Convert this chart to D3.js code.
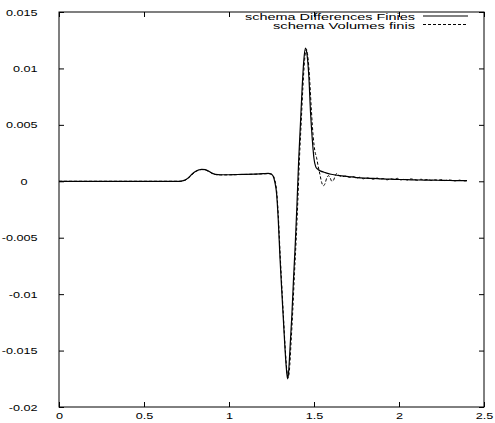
<!DOCTYPE html>
<html><head><meta charset="utf-8">
<script src="https://cdn.jsdelivr.net/npm/d3@7"></script>
<style>
html,body{margin:0;padding:0;background:#fff;}
svg{display:block;}
text{font-family:"Liberation Sans",Arial,Helvetica,sans-serif;font-size:9.5px;fill:#000;}
</style></head>
<body>
<svg id="chart" width="495" height="423"></svg>
<script>
// ---- data ----
const seriesNames = ["schema Differences Finies", "schema Volumes finis"];
const xTicks = [0, 0.5, 1, 1.5, 2, 2.5];
const yTicks = [0.015, 0.01, 0.005, 0, -0.005, -0.01, -0.015, -0.02];
const xTickLabels = ["0", "0.5", "1", "1.5", "2", "2.5"];
const yTickLabels = ["0.015", "0.01", "0.005", "0", "-0.005", "-0.01", "-0.015", "-0.02"];

const dfX = [0, 0.70, 0.72, 0.74, 0.76, 0.78, 0.80, 0.82, 0.84, 0.86, 0.88, 0.90, 0.92, 0.95, 1.00, 1.05, 1.10, 1.15, 1.20, 1.23, 1.25,
  1.26, 1.27, 1.28, 1.29, 1.30, 1.31, 1.32, 1.33, 1.34, 1.345, 1.35, 1.36, 1.37, 1.38, 1.39, 1.40, 1.41, 1.42, 1.43, 1.44, 1.45, 1.46, 1.47, 1.48, 1.49, 1.50, 1.51, 1.52, 1.54, 1.56, 1.58, 1.60, 1.65,
  1.70, 1.75, 1.80, 1.85, 1.90, 1.95, 2.00, 2.05, 2.10, 2.15, 2.20, 2.25, 2.30, 2.35, 2.40];
const dfY = [0, 0, 0.00002, 0.0001, 0.0003, 0.0006, 0.00085, 0.00100, 0.00106, 0.00103, 0.00090, 0.00072, 0.00062, 0.00058, 0.00058, 0.00060, 0.00062, 0.00064, 0.00067, 0.00070, 0.00062,
  0.00045, -0.0001, -0.0011, -0.0035, -0.0068, -0.0096, -0.0123, -0.0150, -0.0170, -0.0175, -0.0170, -0.0145, -0.0118, -0.0085, -0.0055, -0.0020, 0.0019, 0.0050, 0.0082, 0.0107, 0.0118, 0.0111, 0.0092, 0.0060, 0.0037, 0.0020, 0.0013, 0.0011, 0.0009, 0.0008, 0.0007, 0.00062, 0.0005,
  0.00042, 0.00033, 0.00028, 0.00025, 0.00021, 0.00019, 0.00016, 0.00014, 0.00012, 0.00011, 0.0001, 0.00008, 0.00007, 0.00006, 0.00005];

const vfX = [0, 0.70, 0.72, 0.74, 0.76, 0.78, 0.80, 0.82, 0.84, 0.86, 0.88, 0.90, 0.92, 0.95, 1.00, 1.05, 1.10, 1.15, 1.20, 1.23, 1.25,
  1.26, 1.27, 1.28, 1.29, 1.30, 1.31, 1.32, 1.33, 1.34, 1.348, 1.355, 1.365, 1.375, 1.385, 1.395, 1.405, 1.415, 1.425, 1.435, 1.445, 1.455, 1.465, 1.475, 1.485, 1.495, 1.505, 1.515, 1.525,
  1.535, 1.545, 1.555, 1.565, 1.575, 1.585, 1.595, 1.605, 1.615, 1.625, 1.635, 1.65, 1.67, 1.69,
  1.71, 1.73, 1.75, 1.77, 1.79, 1.81, 1.83, 1.85, 1.87, 1.89, 1.91, 1.93, 1.95, 1.97, 1.99, 2.01, 2.03, 2.05, 2.07, 2.09, 2.11, 2.13, 2.15, 2.17, 2.19, 2.21, 2.23, 2.25, 2.27, 2.29, 2.31, 2.33, 2.35, 2.37, 2.39, 2.40];
const vfY = [0, 0, 0.00001, 0.00008, 0.00027, 0.00056, 0.00082, 0.00098, 0.00104, 0.00101, 0.00088, 0.00070, 0.00060, 0.00056, 0.00057, 0.00059, 0.00061, 0.00063, 0.00066, 0.00068, 0.00064,
  0.0005, 0.0001, -0.0008, -0.0030, -0.0062, -0.0091, -0.0119, -0.0146, -0.0167, -0.0174, -0.0168, -0.0143, -0.0115, -0.0082, -0.0052, -0.0017, 0.0022, 0.0053, 0.0084, 0.0108, 0.0117, 0.0109, 0.0089, 0.0062, 0.0040, 0.0027, 0.0021, 0.0013,
  0.0006, -0.0001, -0.0004, -0.0002, 0.0003, 0.0005, 0.0003, 0.0000, 0.0001, 0.0005, 0.0007, 0.0005, 0.00042, 0.00046,
  0.00035, 0.00041, 0.00028, 0.00036, 0.00022, 0.00030, 0.00025, 0.00018, 0.00029, 0.00020, 0.00024, 0.00013, 0.00022, 0.00017, 0.00026, 0.00012, 0.00019, 0.00011, 0.00021, 0.00015, 0.00008, 0.00018, 0.00012, 0.00016, 0.00007, 0.00013, 0.00010, 0.00015, 0.00006, 0.00012, 0.00009, 0.00004, 0.00011, 0.00006, 0.00003, 0.00005];

// ---- layout ----
const svg = d3.select("#chart");
const L = 59, R = 484, T = 12, B = 407;
const x = d3.scaleLinear().domain([0, 2.5]).range([L, R]);
const y = d3.scaleLinear().domain([-0.02, 0.015]).range([B, T]);

const axisColor = "#000";
const tickLen = 5;
const stretch = 1.33; // horizontally wide glyphs as in the reference

function widen(sel) {
  sel.each(function () {
    const w = this.getComputedTextLength();
    d3.select(this).attr("textLength", w * stretch).attr("lengthAdjust", "spacingAndGlyphs");
  });
}

// frame
svg.append("rect").attr("x", L).attr("y", T).attr("width", R - L).attr("height", B - T)
  .attr("fill", "none").attr("stroke", axisColor).attr("stroke-width", 1);

// axes with inward ticks (mirrored)
const gb = svg.append("g").attr("transform", `translate(0,${B})`)
  .call(d3.axisBottom(x).tickValues(xTicks).tickSizeInner(-tickLen).tickSizeOuter(0).tickPadding(5)
    .tickFormat((d, i) => xTickLabels[i]));
const gt = svg.append("g").attr("transform", `translate(0,${T})`)
  .call(d3.axisTop(x).tickValues(xTicks).tickSizeInner(-tickLen).tickSizeOuter(0).tickFormat(""));
const gl = svg.append("g").attr("transform", `translate(${L},0)`)
  .call(d3.axisLeft(y).tickValues(yTicks).tickSizeInner(-tickLen).tickSizeOuter(0).tickPadding(21.5)
    .tickFormat((d, i) => yTickLabels[i]));
const gr = svg.append("g").attr("transform", `translate(${R},0)`)
  .call(d3.axisRight(y).tickValues(yTicks).tickSizeInner(-tickLen).tickSizeOuter(0).tickFormat(""));
[gb, gt, gl, gr].forEach(g => {
  g.select(".domain").remove();
  g.selectAll("line").attr("stroke", axisColor);
  g.selectAll("text").style("font-family", '"Liberation Sans",Arial,sans-serif').style("font-size", "9.5px");
});
gb.selectAll("text").call(widen);
gl.selectAll("text").call(widen);
// the "0" label sits further left in the reference
gl.selectAll(".tick").filter(d => d === 0).select("text").attr("x", -31.5);

// lines
const line = d3.line().x(d => x(d[0])).y(d => y(d[1])).curve(d3.curveMonotoneX);
const dfData = dfX.map((v, i) => [v, dfY[i]]);
const vfData = vfX.map((v, i) => [v, vfY[i]]);
svg.append("path").datum(dfData).attr("d", line).attr("fill", "none").attr("stroke", "#000").attr("stroke-width", 1.2);
svg.append("path").datum(vfData).attr("d", line).attr("fill", "none").attr("stroke", "#000").attr("stroke-width", 1).attr("stroke-dasharray", "3,2");

// legend
const legBase = [19.5, 28.5];
const legLineY = [16, 24.5];
const legLen = [170, 142];
seriesNames.forEach((name, i) => {
  svg.append("text").attr("x", 415).attr("y", legBase[i]).attr("text-anchor", "end")
    .style("font-size", "9px")
    .attr("textLength", legLen[i]).attr("lengthAdjust", "spacingAndGlyphs").text(name);
  svg.append("line").attr("x1", 423).attr("x2", 468).attr("y1", legLineY[i]).attr("y2", legLineY[i])
    .attr("stroke", "#000").attr("stroke-width", 1).attr("stroke-dasharray", i === 1 ? "3,2" : null);
});
</script>
</body></html>
